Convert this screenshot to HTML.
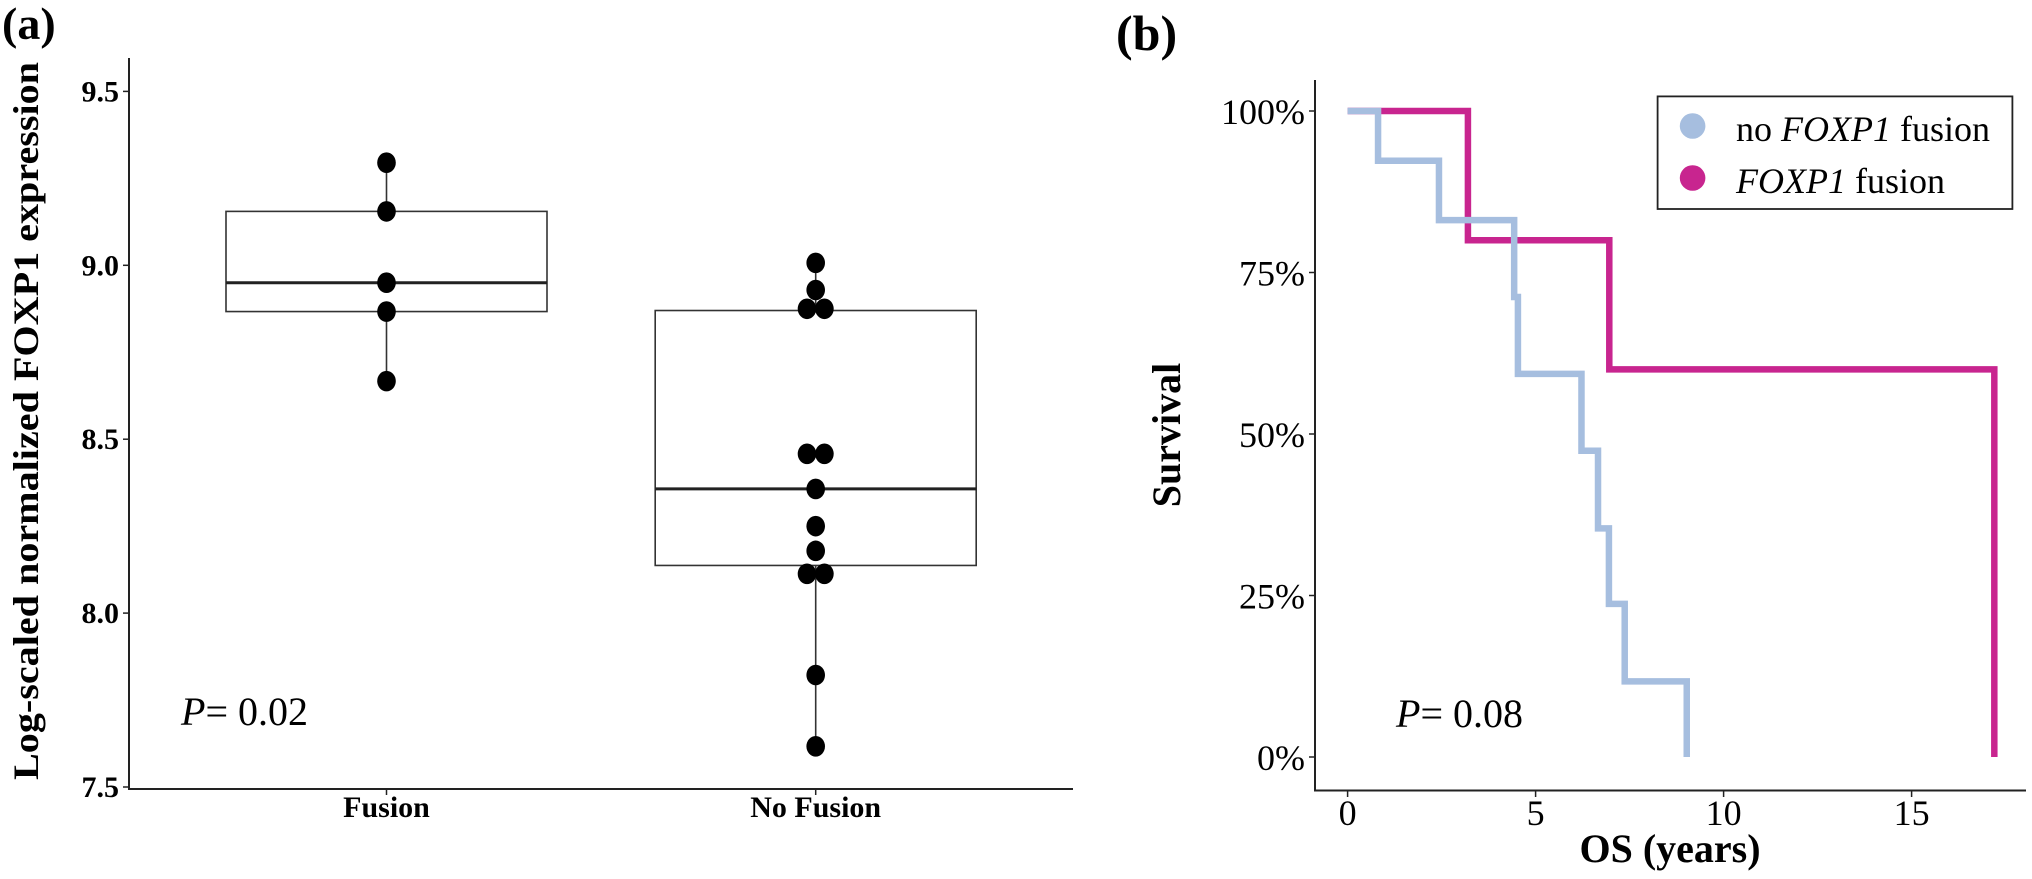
<!DOCTYPE html>
<html><head><meta charset="utf-8"><style>
html,body{margin:0;padding:0;background:#fff;}
svg{display:block;font-family:"Liberation Serif",serif;}
</style></head><body>
<svg id="fig" width="2032" height="879" viewBox="0 0 2032 879" xmlns="http://www.w3.org/2000/svg">
<g id="pa"></g>
<g id="pb"></g>
</svg>
<script>
// ---- Panel (a) data ----
const groupNames = ["Fusion", "No Fusion"];
const fusionValues = [9.295, 9.155, 8.95, 8.867, 8.667];
const noFusionValues = [9.007, 8.929, 8.875, 8.875, 8.458, 8.458, 8.357, 8.25, 8.179, 8.113, 8.113, 7.822, 7.617];
const boxLow = [8.867, 8.137];
const boxMedian = [8.95, 8.357];
const boxHigh = [9.155, 8.87];
const whiskerLow = [8.667, 7.617];
const whiskerHigh = [9.295, 9.007];
const yTicksA = [7.5, 8.0, 8.5, 9.0, 9.5];
const yTickLabelsA = ["7.5", "8.0", "8.5", "9.0", "9.5"];

// ---- Panel (b) data ----
const noFusionTimes = [0, 0.81, 2.43, 4.43, 4.53, 6.22, 6.66, 6.95, 7.37, 9.02];
const noFusionSurv = [100, 92.3, 83.1, 71.2, 59.3, 47.4, 35.4, 23.7, 11.7, 0];
const fusionTimes = [0, 3.2, 6.96, 17.2];
const fusionSurv = [100, 80, 60, 0];
const xTicksB = [0, 5, 10, 15];
const yTicksB = [0, 25, 50, 75, 100];
const yTickLabelsB = ["0%", "25%", "50%", "75%", "100%"];

const NS = "http://www.w3.org/2000/svg";
function mk(parent, tag, attrs, text) {
  const e = document.createElementNS(NS, tag);
  for (const k in attrs) e.setAttribute(k, attrs[k]);
  if (text !== undefined) e.textContent = text;
  parent.appendChild(e);
  return e;
}

// ===== Panel A =====
const pa = document.getElementById('pa');
const yA = v => 265.3 + (9 - v) * 347.8;
const xCenters = [386.5, 815.7];
const boxHalf = 160.5;
let t;
t = mk(pa, 'text', {x: 2, y: 39, 'font-size': 46, 'font-weight': 'bold'}, '(a)');


let ax = mk(pa, 'line', {x1: 129, y1: 58, x2: 129, y2: 789, stroke: '#222', 'stroke-width': 2});


ax = mk(pa, 'line', {x1: 128, y1: 789, x2: 1073, y2: 789, stroke: '#222', 'stroke-width': 2});


yTicksA.forEach((v, i) => {
  const y = yA(v);
  const tk = mk(pa, 'line', {x1: 123, y1: y, x2: 129, y2: y, stroke: '#222', 'stroke-width': 1.5});
  
  
  const lb = mk(pa, 'text', {x: 119, y: y + 10, 'font-size': 30, 'font-weight': 'bold', 'text-anchor': 'end'}, yTickLabelsA[i]);
  
  
});
t = mk(pa, 'text', {x: 0, y: 0, 'font-size': 36, 'font-weight': 'bold', 'text-anchor': 'middle', textLength: 718, lengthAdjust: 'spacingAndGlyphs', transform: 'translate(38,421) rotate(-90)'}, 'Log-scaled normalized FOXP1 expression');


groupNames.forEach((g, i) => {
  const cx = xCenters[i];
  const tk = mk(pa, 'line', {x1: cx, y1: 789, x2: cx, y2: 795, stroke: '#222', 'stroke-width': 1.5});
  
  
  const lb = mk(pa, 'text', {x: cx, y: 817, 'font-size': 30, 'font-weight': 'bold', 'text-anchor': 'middle'}, g);
  
  
  const w1 = mk(pa, 'line', {x1: cx, y1: yA(whiskerHigh[i]), x2: cx, y2: yA(boxHigh[i]), stroke: '#333', 'stroke-width': 1.6});
  
  
  const w2 = mk(pa, 'line', {x1: cx, y1: yA(boxLow[i]), x2: cx, y2: yA(whiskerLow[i]), stroke: '#333', 'stroke-width': 1.6});
  
  
  const b = mk(pa, 'rect', {x: cx - boxHalf, y: yA(boxHigh[i]), width: boxHalf * 2, height: yA(boxLow[i]) - yA(boxHigh[i]), fill: 'none', stroke: '#333', 'stroke-width': 1.6});
  
  
  const m = mk(pa, 'line', {x1: cx - boxHalf, y1: yA(boxMedian[i]), x2: cx + boxHalf, y2: yA(boxMedian[i]), stroke: '#222', 'stroke-width': 3});
  
  
});
function drawDots(vals, cx) {
  const counts = {};
  vals.forEach(v => { counts[v] = (counts[v] || 0) + 1; });
  const seen = {};
  vals.forEach(v => {
    let off = 0;
    if (counts[v] === 2) { off = (seen[v] ? 8.7 : -8.7); }
    seen[v] = true;
    const d = mk(pa, 'ellipse', {cx: cx + off, cy: yA(v), rx: 9.3, ry: 10.3, fill: '#000'});
    
    
  });
}
drawDots(fusionValues, xCenters[0]);
drawDots(noFusionValues, xCenters[1]);
t = mk(pa, 'text', {x: 181, y: 725, 'font-size': 40}, '');


mk(t, 'tspan', {'font-style': 'italic'}, 'P');
mk(t, 'tspan', {}, '= 0.02');

// ===== Panel B =====
const pb = document.getElementById('pb');
const xB = v => 1347.6 + v * 37.6;
const yB = s => 757 - s * 6.46;
t = mk(pb, 'text', {x: 1116, y: 50, 'font-size': 50, 'font-weight': 'bold'}, '(b)');


ax = mk(pb, 'line', {x1: 1315, y1: 80, x2: 1315, y2: 791, stroke: '#222', 'stroke-width': 2});


ax = mk(pb, 'line', {x1: 1314, y1: 790.5, x2: 2026, y2: 790.5, stroke: '#222', 'stroke-width': 2});


yTicksB.forEach((s, i) => {
  const y = yB(s);
  const tk = mk(pb, 'line', {x1: 1309, y1: y, x2: 1315, y2: y, stroke: '#222', 'stroke-width': 1.5});
  
  
  const lb = mk(pb, 'text', {x: 1305, y: y + 13, 'font-size': 36, 'text-anchor': 'end'}, yTickLabelsB[i]);
  
  
});
xTicksB.forEach(v => {
  const x = xB(v);
  const tk = mk(pb, 'line', {x1: x, y1: 790.5, x2: x, y2: 797, stroke: '#222', 'stroke-width': 1.5});
  
  
  const lb = mk(pb, 'text', {x: x, y: 825, 'font-size': 36, 'text-anchor': 'middle'}, String(v));
  
  
});
t = mk(pb, 'text', {x: 1670, y: 862, 'font-size': 40, 'font-weight': 'bold', 'text-anchor': 'middle'}, 'OS (years)');


t = mk(pb, 'text', {x: 0, y: 0, 'font-size': 40, 'font-weight': 'bold', 'text-anchor': 'middle', transform: 'translate(1180,435) rotate(-90)'}, 'Survival');


function stepPath(times, surv) {
  let d = 'M' + xB(times[0]) + ',' + yB(surv[0]);
  for (let i = 1; i < times.length; i++) {
    d += ' L' + xB(times[i]) + ',' + yB(surv[i - 1]) + ' L' + xB(times[i]) + ',' + yB(surv[i]);
  }
  return d;
}
let p = mk(pb, 'path', {d: stepPath(fusionTimes, fusionSurv), fill: 'none', stroke: '#c8258f', 'stroke-width': 6.5});


p = mk(pb, 'path', {d: stepPath(noFusionTimes, noFusionSurv), fill: 'none', stroke: '#a6bedf', 'stroke-width': 6.5});


t = mk(pb, 'text', {x: 1396, y: 727, 'font-size': 40}, '');


mk(t, 'tspan', {'font-style': 'italic'}, 'P');
mk(t, 'tspan', {}, '= 0.08');
// legend
const lg = mk(pb, 'g', {});


const lr = mk(lg, 'rect', {x: 1657.6, y: 96.4, width: 354.8, height: 112.6, fill: '#fff', stroke: '#222', 'stroke-width': 1.8});


const c1 = mk(lg, 'circle', {cx: 1692.6, cy: 126, r: 12.8, fill: '#a6bedf'});


const c2 = mk(lg, 'circle', {cx: 1692.6, cy: 178, r: 12.8, fill: '#c8258f'});


t = mk(lg, 'text', {x: 1736, y: 141, 'font-size': 36}, '');


mk(t, 'tspan', {}, 'no ');
mk(t, 'tspan', {'font-style': 'italic'}, 'FOXP1');
mk(t, 'tspan', {}, ' fusion');
t = mk(lg, 'text', {x: 1736, y: 193, 'font-size': 36}, '');


mk(t, 'tspan', {'font-style': 'italic'}, 'FOXP1');
mk(t, 'tspan', {}, ' fusion');
</script>
</body></html>
